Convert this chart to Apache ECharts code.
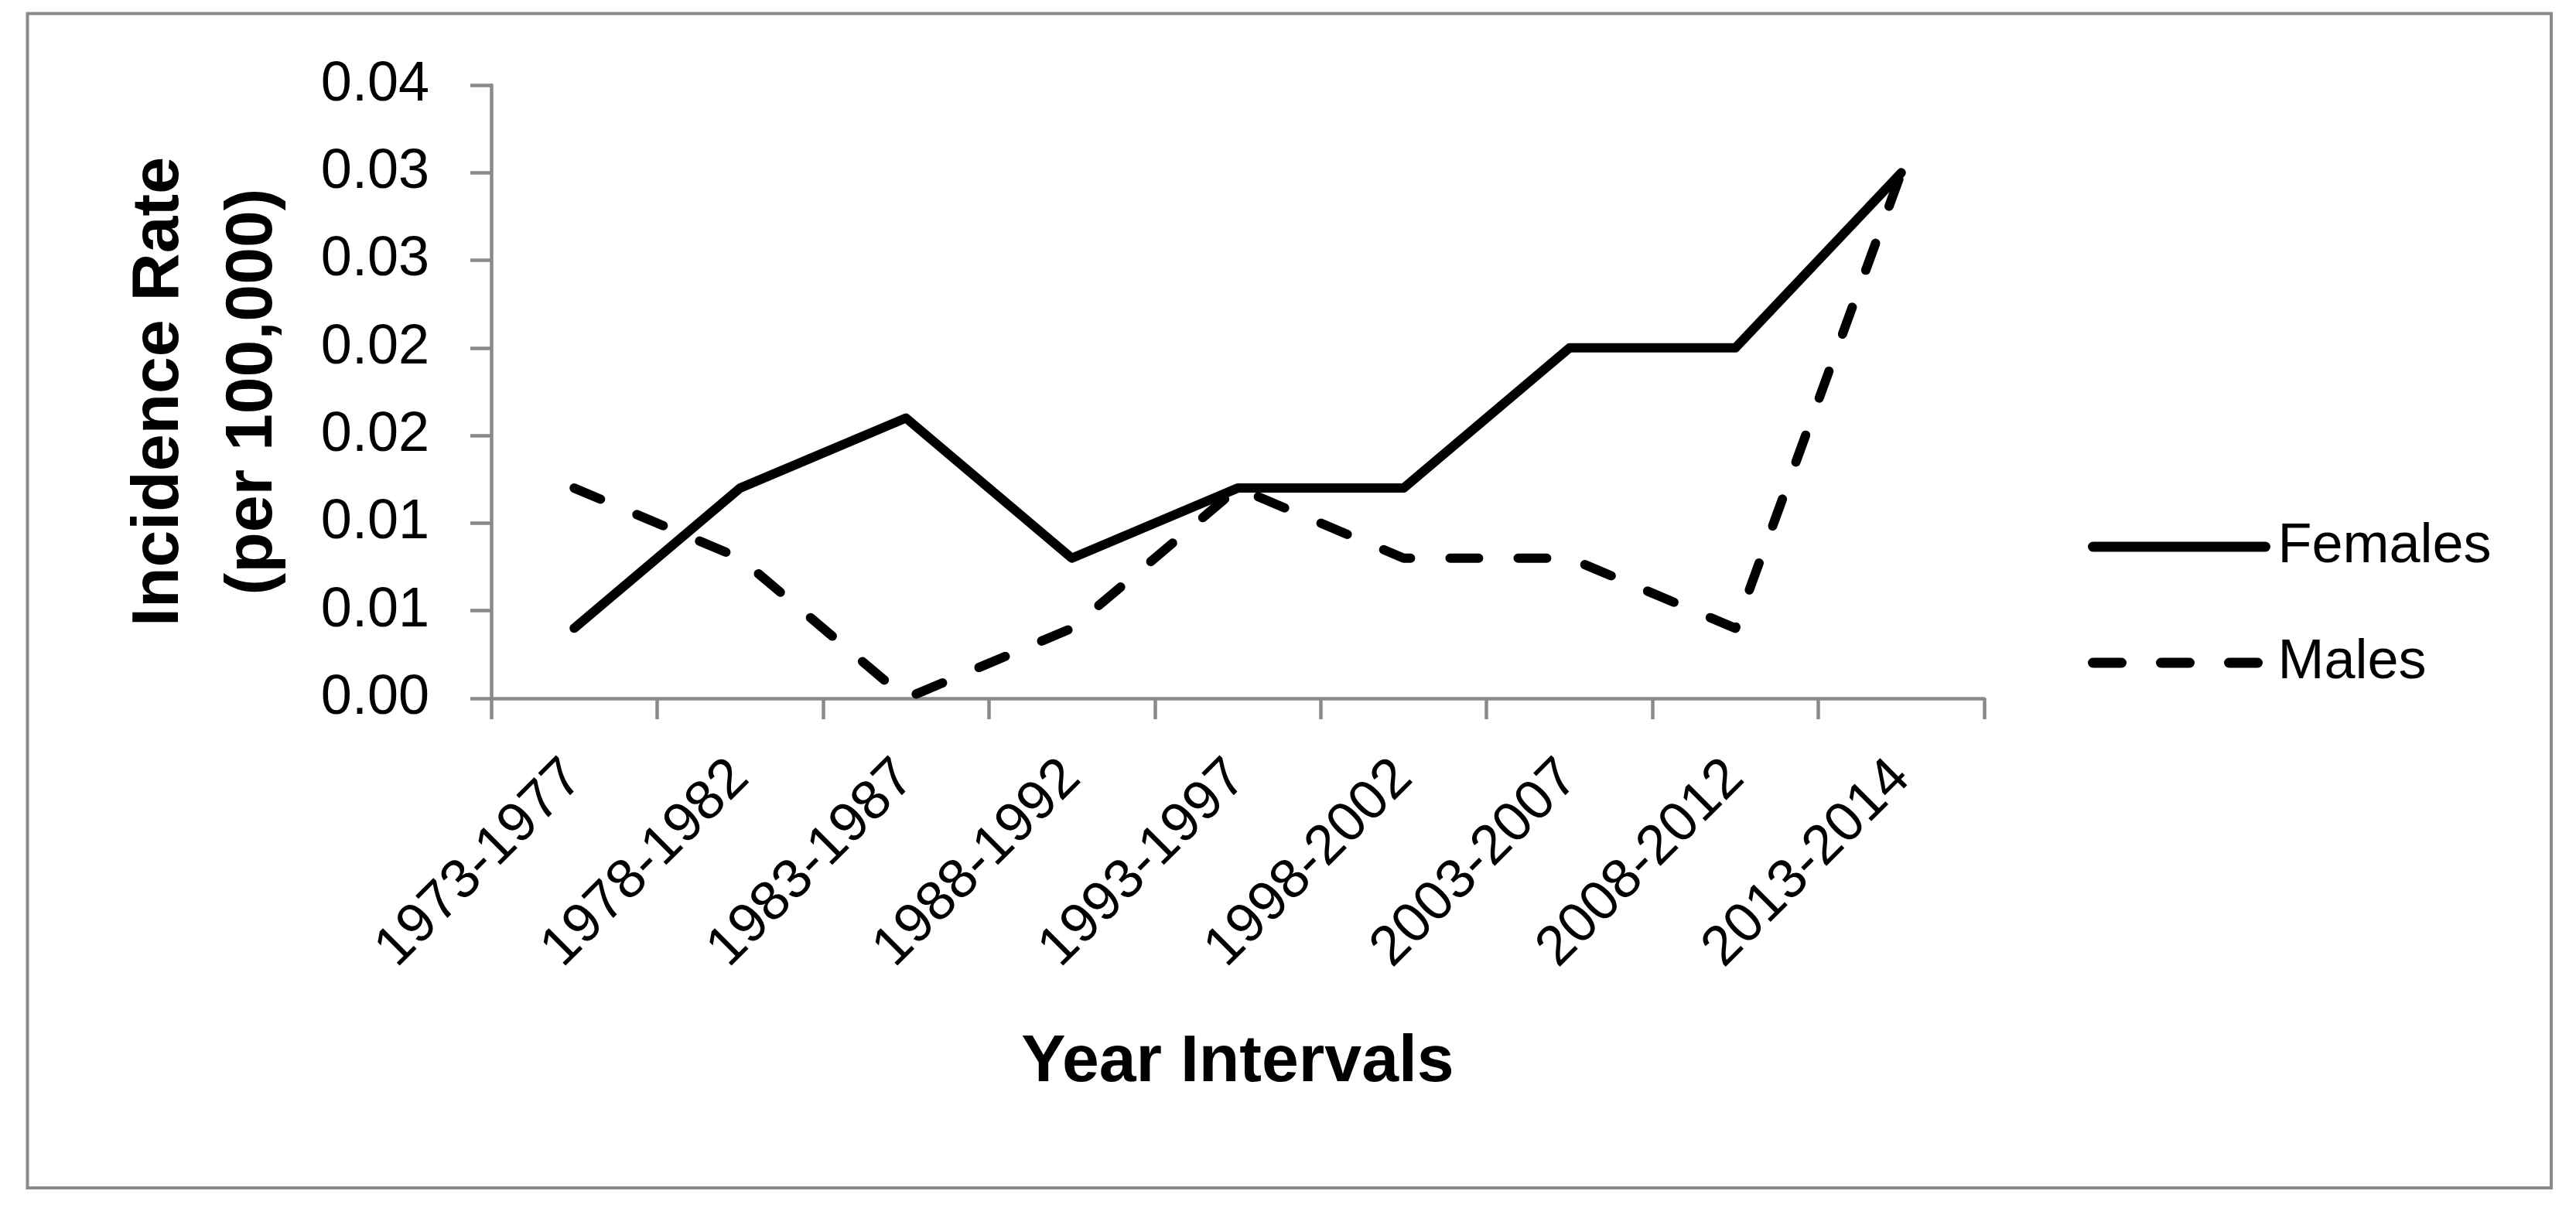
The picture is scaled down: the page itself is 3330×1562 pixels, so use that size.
<!DOCTYPE html>
<html>
<head>
<meta charset="utf-8">
<script src="https://cdn.jsdelivr.net/npm/echarts@6/dist/echarts.min.js"></script>
<style>
html,body{margin:0;padding:0;background:#fff;}
#chart{width:3330px;height:1562px;}
</style>
</head>
<body>
<div id="chart"></div>
<script>
const categories = ['1973-1977','1978-1982','1983-1987','1988-1992','1993-1997','1998-2002','2003-2007','2008-2012','2013-2014'];
const females = [0.004, 0.012, 0.016, 0.008, 0.012, 0.012, 0.020, 0.020, 0.030];
const males   = [0.012, 0.008, 0.000, 0.004, 0.012, 0.008, 0.008, 0.004, 0.030];
const yTickLabels = ['0.00','0.01','0.01','0.02','0.02','0.03','0.03','0.04'];
const yStep = 0.005;

const FONT = '"Liberation Sans", Arial, sans-serif';
const AXIS_GREY = '#8a8a8a';
const DASH = [37, 51];

const chart = echarts.init(document.getElementById('chart'), null, {renderer: 'canvas'});
chart.setOption({
  animation: false,
  backgroundColor: '#ffffff',
  textStyle: {fontFamily: FONT, color: '#000'},
  graphic: [{
    type: 'rect',
    shape: {x: 35.5, y: 17.5, width: 3262.5, height: 1518.5},
    style: {fill: 'none', stroke: AXIS_GREY, lineWidth: 4},
    silent: true, z: -1
  }],
  grid: {left: 635, right: 765, top: 110, bottom: 659, containLabel: false, outerBoundsMode: 'none'},
  legend: {
    orient: 'vertical',
    left: 2694,
    top: 662,
    itemWidth: 223,
    itemHeight: 14,
    itemGap: 70,
    data: ['Females', 'Males'],
    lineStyle: {width: 13},
    textStyle: {fontFamily: FONT, fontSize: 72, color: '#000', lineHeight: 80, padding: [0, 0, 0, 11]}
  },
  xAxis: {
    type: 'category',
    data: categories,
    boundaryGap: true,
    name: 'Year Intervals',
    nameLocation: 'middle',
    nameGap: 428,
    nameTextStyle: {fontFamily: FONT, fontSize: 86, fontWeight: 'bold', color: '#000', lineHeight: 86},
    axisLine: {show: true, lineStyle: {color: AXIS_GREY, width: 4.5}},
    axisTick: {show: true, length: 27, alignWithLabel: false, interval: 0, lineStyle: {color: AXIS_GREY, width: 4.5}},
    axisLabel: {show: true, interval: 0, rotate: 45, margin: 92, fontFamily: FONT, fontSize: 72, color: '#000', hideOverlap: false},
    splitLine: {show: false}
  },
  yAxis: {
    type: 'value',
    min: 0,
    max: 0.035,
    interval: yStep,
    name: 'Incidence Rate\n(per 100,000)',
    nameLocation: 'middle',
    nameRotate: 90,
    nameGap: 247,
    nameTextStyle: {fontFamily: FONT, fontSize: 86, fontWeight: 'bold', color: '#000', lineHeight: 121, align: 'center'},
    axisLine: {show: true, lineStyle: {color: AXIS_GREY, width: 4.5}},
    axisTick: {show: true, length: 27, lineStyle: {color: AXIS_GREY, width: 4.5}},
    axisLabel: {
      show: true, margin: 80, fontFamily: FONT, fontSize: 72, color: '#000',
      formatter: function (v) { return yTickLabels[Math.round(v / yStep)]; }
    },
    splitLine: {show: false}
  },
  series: [
    {
      name: 'Females', type: 'line', data: females,
      symbol: 'none', showSymbol: false,
      lineStyle: {color: '#000', width: 12, type: 'solid', cap: 'round', join: 'round'},
      itemStyle: {color: '#000'}
    },
    {
      name: 'Males', type: 'line', data: males,
      symbol: 'none', showSymbol: false,
      lineStyle: {color: '#000', width: 12, type: DASH, cap: 'round', join: 'round'},
      itemStyle: {color: '#000'}
    }
  ]
});
</script>
</body>
</html>
